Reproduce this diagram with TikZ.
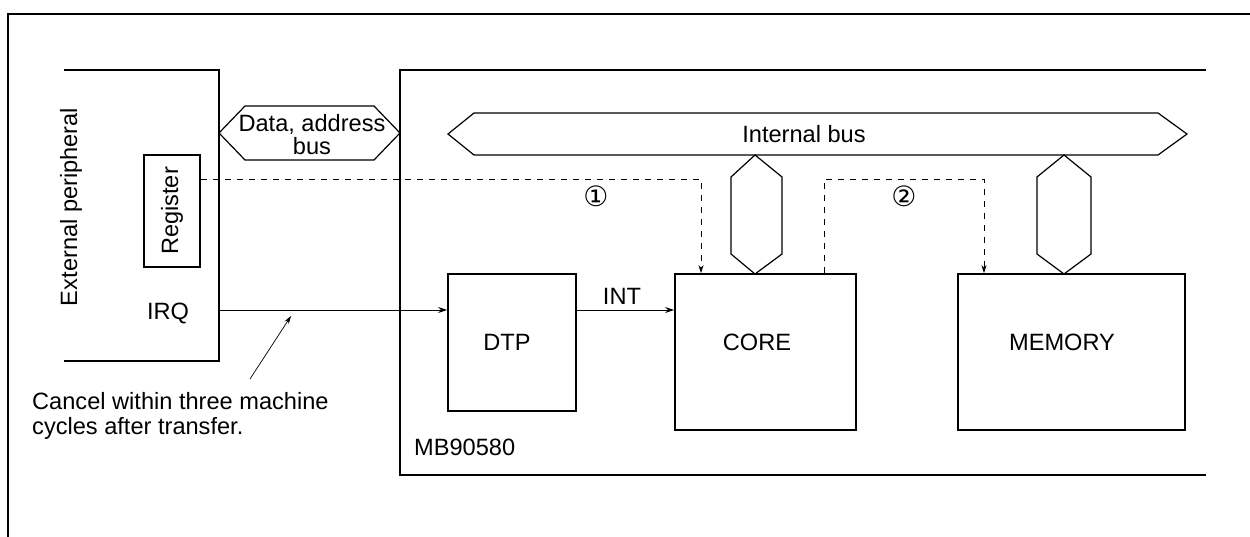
\documentclass[tikz,border=0pt]{standalone}
\usepackage{fontspec}
\setmainfont{Liberation Sans}
\newfontfamily\dejavu{DejaVu Sans}
\usetikzlibrary{arrows.meta}
\begin{document}
\begin{tikzpicture}[x=1pt,y=-1pt,
  frameline/.style={line width=1.7pt},
  busline/.style={line width=1.2pt, line join=miter},
  blk/.style={draw, line width=1.7pt, inner sep=0pt},
  lbl/.style={font=\fontsize{23.6}{25}\selectfont, inner sep=0pt},
  num/.style={font=\dejavu\fontsize{28}{28}\selectfont, inner sep=0pt},
  sig/.style={line width=0.9pt, -{Stealth[length=9pt,width=6pt]}},
  ctl/.style={line width=0.9pt, dash pattern=on 6pt off 6pt, -{Stealth[length=8pt,width=5pt]}},
]
\useasboundingbox (0,0) rectangle (1250,537);

% outer frame
\draw[frameline] (8,537) -- (8,14) -- (1250,14);

% external peripheral
\draw[frameline] (64,70) -- (219,70) -- (219,361) -- (64,361);
\node[lbl, rotate=90] (ext) at (71,207) {External peripheral};
\node[blk, minimum width=56pt, minimum height=112pt] (reg) at (172,211) {};
\node[lbl, rotate=90] (regT) at (172,211) {Register};
\node[lbl] (irq) at (168,313) {IRQ};

% MB90580 chip
\draw[frameline] (1206,70) -- (400,70) -- (400,475) -- (1206,475);
\node[lbl, anchor=west] (mb) at (414,447.5) {MB90580};

% data/address bus
\draw[busline] (219,133) -- (245,106) -- (374,106) -- (400,133) -- (374,160) -- (245,160) -- cycle;
\node[lbl, align=center, font=\fontsize{23.6}{23}\selectfont] (dab) at (312,135) {Data, address\\bus};

% internal bus
\draw[busline] (448,134) -- (474,113) -- (1158,113) -- (1187,134) -- (1158,155) -- (474,155) -- cycle;
\node[lbl] (ib) at (804,134) {Internal bus};

% blocks
\node[blk, minimum width=128pt, minimum height=137pt] (dtp) at (512,342.5) {};
\node[lbl] (dtpT) at (507,342) {DTP};
\node[blk, minimum width=181pt, minimum height=156pt] (core) at (765.5,352) {};
\node[lbl] (coreT) at (757,342) {CORE};
\node[blk, minimum width=227pt, minimum height=156pt] (mem) at (1071.5,352) {};
\node[lbl] (memT) at (1062,342) {MEMORY};

% vertical buses
\draw[busline] (755,155) -- (782,177) -- (782,254) -- (755,274) -- (731,254) -- (731,177) -- cycle;
\draw[busline] (1064,155) -- (1091,177) -- (1091,254) -- (1064,274) -- (1037,254) -- (1037,177) -- cycle;

% signals
\coordinate (irqout) at (219,310);
\draw[sig] (irqout) -- (dtp.west |- 0,310);
\draw[sig] (dtp.east |- 0,310) -- (core.west |- 0,310);
\node[lbl] (int) at (622,296.5) {INT};

% control (dashed) paths
\draw[ctl] (reg.north east |- 0,179) -- (701,179) -- (core.north west -| 701,0);
\node[num] (n1) at (596,196) {①};
\draw[ctl] (core.north west -| 824,0) -- (824,179) -- (984,179) -- (mem.north west -| 984,0);
\node[num] (n2) at (904,196) {②};

% annotation
\coordinate (annA) at (250,379);
\coordinate (annB) at (291,316);
\draw[line width=0.7pt, -{Stealth[length=8pt,width=5pt]}] (annA) -- (annB);
\node[lbl, align=left, anchor=north west] (note) at (32,392) {Cancel within three machine\\cycles after transfer.};
\end{tikzpicture}
\end{document}
